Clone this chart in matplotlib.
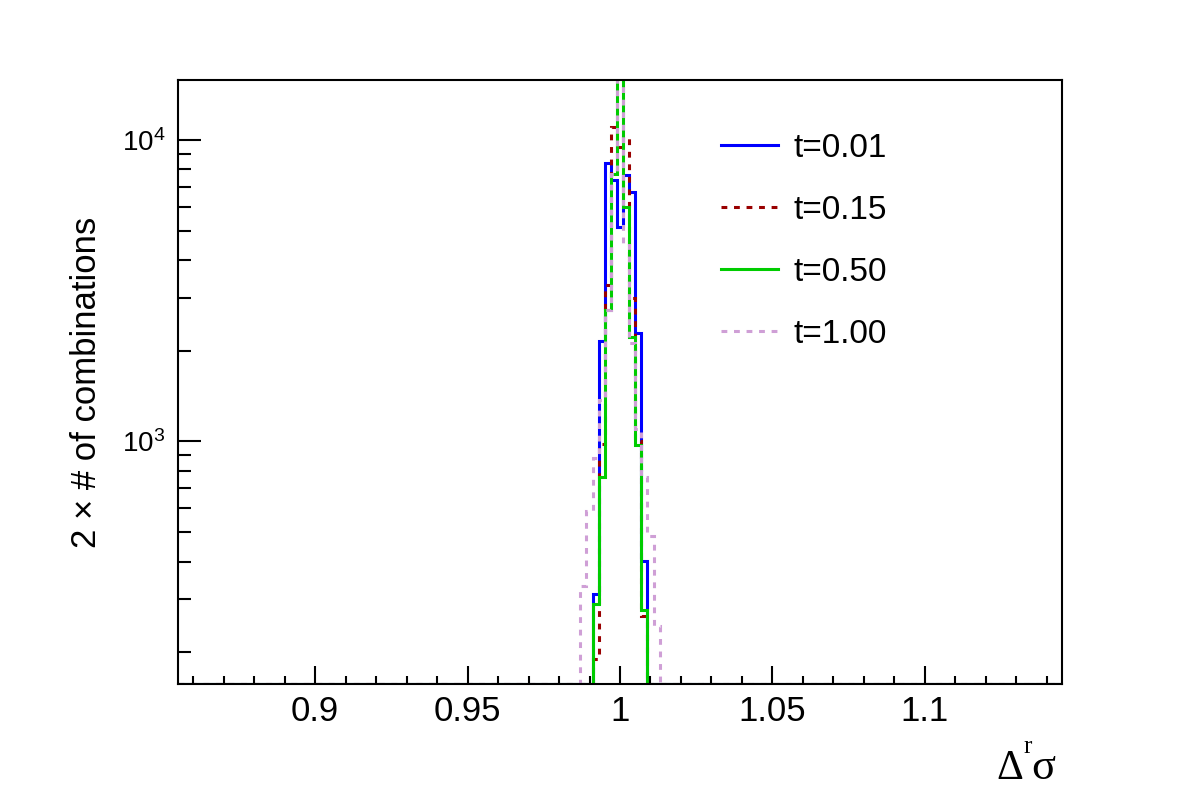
import numpy as np
import matplotlib.pyplot as plt
from matplotlib.lines import Line2D
from matplotlib.ticker import FixedLocator, LogLocator, NullFormatter

plt.rcParams['font.family'] = ['Liberation Sans', 'DejaVu Sans']
plt.rcParams['mathtext.fontset'] = 'custom'
plt.rcParams['mathtext.rm'] = 'Liberation Sans'

# binning of the histograms: 145 bins of width 0.002
x_lo = 0.855
x_hi = 1.145
n_bins = 145

# centres of the non-empty bins and the counts
centres = [0.986, 0.988, 0.990, 0.992, 0.994, 0.996, 0.998, 1.000,
           1.002, 1.004, 1.006, 1.008, 1.010, 1.012, 1.014]
t001 = [0, 0, 0, 313, 2150, 8400, 7360, 5150, 7650, 6720, 2290, 403, 0, 0, 0]
t015 = [0, 0, 0, 190, 980, 3300, 11000, 9500, 10200, 3000, 1000, 264, 0, 0, 0]
t050 = [0, 0, 0, 290, 761, 2720, 7710, 40000, 5990, 2215, 977, 277, 0, 0, 0]
t100 = [0, 333, 590, 879, 1370, 2720, 7710, 40000, 4550, 2120, 1100, 761, 487, 244, 0]

labels = ['t=0.01', 't=0.15', 't=0.50', 't=1.00']
colors = ['#0000ff', '#990000', '#00cc00', '#cf9fd6']
styles = ['-', (0, (1.9, 2.2)), '-', (0, (1.9, 2.2))]

xticks = [0.9, 0.95, 1.0, 1.05, 1.1]
xticklabels = ['0.9', '0.95', '1', '1.05', '1.1']

ymin, ymax = 157, 15800

edges = np.linspace(x_lo, x_hi, n_bins + 1)
width = (x_hi - x_lo) / n_bins


def full_hist(vals):
    counts = np.zeros(n_bins)
    idx = np.round((np.array(centres) - x_lo) / width - 0.5).astype(int)
    counts[idx] = vals
    # empty bins are drawn on the axis floor, like ROOT does
    return np.clip(counts, ymin, None)


fig = plt.figure(figsize=(11.82, 8.05), dpi=100)
ax = fig.add_axes([178 / 1182, 1 - 684 / 805, (1062 - 178) / 1182, (684 - 80) / 805])

handles = []
for vals, lab, c, ls in zip([t001, t015, t050, t100], labels, colors, styles):
    ax.stairs(full_hist(vals), edges, baseline=None, color=c, lw=2.2, linestyle=ls)
    handles.append(Line2D([], [], color=c, lw=2.2, linestyle=ls))

ax.set_yscale('log')
ax.set_xlim(x_lo, x_hi)
ax.set_ylim(ymin, ymax)

ax.xaxis.set_major_locator(FixedLocator(xticks))
ax.set_xticklabels(xticklabels)
ax.xaxis.set_minor_locator(FixedLocator(np.arange(0.86, 1.145, 0.01)))
ax.yaxis.set_major_locator(LogLocator(base=10))
ax.yaxis.set_minor_locator(LogLocator(base=10, subs=np.arange(2, 10)))
ax.yaxis.set_minor_formatter(NullFormatter())

ax.tick_params(which='both', direction='in', top=False, right=False, width=1.5)
ax.tick_params(axis='x', which='major', length=13, pad=8, labelsize=25)
ax.tick_params(axis='x', which='minor', length=6)
ax.tick_params(axis='y', which='major', length=16.5, pad=9, labelsize=20)
ax.tick_params(axis='y', which='minor', length=9.5)
for s in ax.spines.values():
    s.set_linewidth(1.5)

ax.set_ylabel('2 × # of combinations', fontsize=25)
ax.yaxis.set_label_coords(-0.085, 0.5)

# x title: Delta^r sigma in a serif face
fig.text(996 / 1182, 1 - 779 / 805, 'Δ', fontsize=30, family='Liberation Serif')
fig.text(1023 / 1182, 1 - 753 / 805, 'r', fontsize=18, family='Liberation Serif')
fig.text(1031 / 1182, 1 - 779 / 805, 'σ', fontsize=32, family='Liberation Serif')

ax.legend(handles, labels, loc='upper left', bbox_to_anchor=(721 / 1182, 1 - 133 / 805),
          bbox_transform=fig.transFigure, frameon=False, fontsize=24,
          handlelength=1.72, handletextpad=0.45, labelspacing=0.93,
          borderpad=0, borderaxespad=0)

fig.savefig('out.png', dpi=100)
